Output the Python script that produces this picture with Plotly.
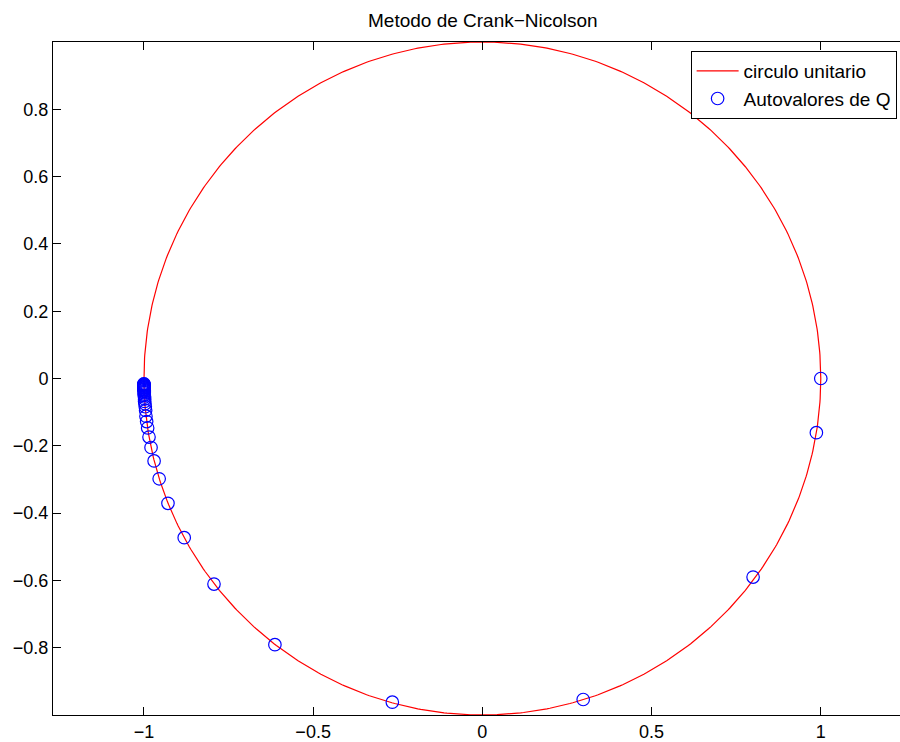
import numpy as np
import plotly.graph_objects as go

# Eigenvalues of the Crank-Nicolson amplification matrix Q (real and imaginary parts)
eig_re = [1.000, 0.987, 0.800, 0.298, -0.266, -0.613, -0.793, -0.881, -0.929,
          -0.955, -0.970, -0.979, -0.985, -0.989, -0.992, -0.994,
          -0.995, -0.996, -0.997, -0.998, -0.998, -0.998, -0.999, -0.999,
          -0.999, -0.999, -0.999, -1.000, -1.000, -1.000, -1.000, -1.000,
          -1.000, -1.000, -1.000, -1.000, -1.000, -1.000, -1.000]
eig_im = [0.000, -0.161, -0.590, -0.954, -0.962, -0.791, -0.611, -0.473, -0.371,
          -0.298, -0.245, -0.205, -0.174, -0.147, -0.128, -0.112,
          -0.095, -0.084, -0.075, -0.068, -0.061, -0.055, -0.050, -0.046,
          -0.042, -0.039, -0.036, -0.033, -0.031, -0.029, -0.027, -0.025,
          -0.023, -0.022, -0.020, -0.019, -0.018, -0.017, -0.016]

x_ticks = [-1, -0.5, 0, 0.5, 1]
x_ticktext = ["\u22121", "\u22120.5", "0", "0.5", "1"]
y_ticks = [-0.8, -0.6, -0.4, -0.2, 0, 0.2, 0.4, 0.6, 0.8]
y_ticktext = ["\u22120.8", "\u22120.6", "\u22120.4", "\u22120.2", "0", "0.2", "0.4", "0.6", "0.8"]

# unit circle
theta = np.linspace(0, 2 * np.pi, 721)
circ_x = np.cos(theta)
circ_y = np.sin(theta)

FONT = "Liberation Sans, Arial, Helvetica, sans-serif"

fig = go.Figure()
fig.add_trace(go.Scatter(
    x=circ_x, y=circ_y, mode="lines", name="circulo unitario",
    line=dict(color="#ff0000", width=1.2),
))
fig.add_trace(go.Scatter(
    x=eig_re, y=eig_im, mode="markers", name="Autovalores de Q",
    marker=dict(symbol="circle-open", size=12.5, color="#0000ff", line=dict(width=1.2, color="#0000ff")),
))

fig.update_layout(
    width=900, height=742,
    margin=dict(l=53, r=0, t=42, b=25),
    paper_bgcolor="white", plot_bgcolor="white",
    font=dict(family=FONT, size=18, color="black"),
    title=dict(text="Metodo de Crank\u2212Nicolson", x=0.5075, xref="paper", xanchor="center",
               y=1 - 20 / 742, yref="container", yanchor="middle",
               font=dict(family=FONT, size=19, color="black")),
    showlegend=True,
    legend=dict(x=0.7528, y=0.9867, xanchor="left", yanchor="top",
                bgcolor="white", bordercolor="black", borderwidth=1,
                itemwidth=42, tracegroupgap=0,
                font=dict(family=FONT, size=19, color="black")),
)
fig.update_xaxes(
    range=[-1.2687, 1.2341], tickvals=x_ticks, ticktext=x_ticktext,
    showgrid=False, zeroline=False, showline=True, linecolor="black", linewidth=1,
    mirror="ticks", ticks="inside", ticklen=8, tickcolor="black", tickwidth=1,
)
fig.update_yaxes(
    range=[-1, 1], tickvals=y_ticks, ticktext=y_ticktext,
    showgrid=False, zeroline=False, showline=True, linecolor="black", linewidth=1,
    mirror=False, ticks="inside", ticklen=8, tickcolor="black", tickwidth=1,
)

fig.write_html("out.html")
